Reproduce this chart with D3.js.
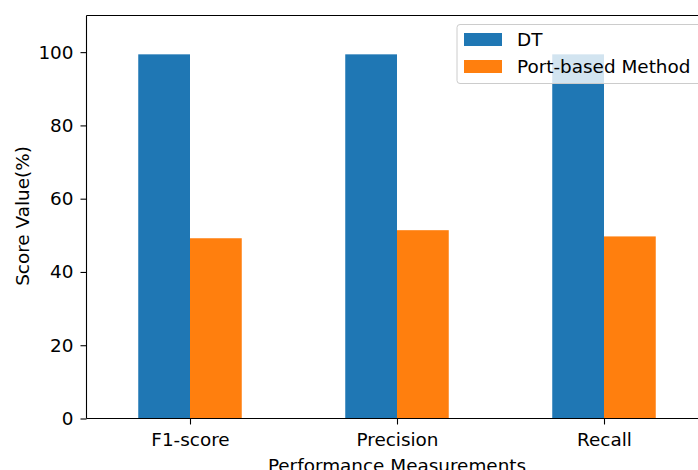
<!DOCTYPE html>
<html><head><meta charset="utf-8">
<script src="https://cdn.jsdelivr.net/npm/d3@7"></script>
<style>body{margin:0;background:#fff}svg{display:block;overflow:hidden}text{font-family:"DejaVu Sans",sans-serif}</style>
</head><body>
<svg id="c" width="698" height="470"></svg>
<script>
const categories = ["F1-score", "Precision", "Recall"];
const seriesNames = ["DT", "Port-based Method"];
const dtValues = [99.4, 99.4, 99.4];
const portValues = [49.2, 51.4, 49.7];
const yTicks = [0, 20, 40, 60, 80, 100];
const colors = ["#1f77b4", "#ff7f0e"];

(function () {
const svg = d3.select("#c");
const fs = 18.4;
const pLeft = 86.5, pRight = 707.5, pTop = 15.5, pBottom = 418.5;
const x = d3.scaleLinear().domain([-0.5, 2.5]).range([pLeft, pRight]);
const y = d3.scaleLinear().domain([0, 110]).range([pBottom, pTop]);
const bw = 0.25;
const series = [dtValues, portValues];

series.forEach((vals, si) => {
  svg.append("g").selectAll("rect").data(vals).join("rect")
    .attr("x", (d, i) => x(i - bw + si * bw))
    .attr("width", x(bw) - x(0))
    .attr("y", d => y(d))
    .attr("height", d => y(0) - y(d))
    .attr("fill", colors[si]);
});

const sp = svg.append("g").attr("stroke", "#000").attr("stroke-width", 1.1).attr("fill", "none");
sp.append("line").attr("x1", pLeft).attr("x2", pLeft).attr("y1", pTop).attr("y2", pBottom);
sp.append("line").attr("x1", pLeft).attr("x2", pRight).attr("y1", pBottom).attr("y2", pBottom);
sp.append("line").attr("x1", pLeft).attr("x2", pRight).attr("y1", pTop).attr("y2", pTop);
sp.append("line").attr("x1", pRight).attr("x2", pRight).attr("y1", pTop).attr("y2", pBottom);

const yAxis = d3.axisLeft(y).tickValues(yTicks).tickSize(6).tickPadding(7);
const gy = svg.append("g").attr("transform", `translate(${pLeft},0)`).call(yAxis);
gy.select(".domain").remove();
gy.selectAll("line").attr("stroke-width", 1.1);
gy.selectAll("text").attr("font-size", fs).attr("fill", "#000").attr("font-family", "DejaVu Sans");

const xAxis = d3.axisBottom(x).tickValues([0, 1, 2]).tickFormat(i => categories[i]).tickSize(6).tickPadding(8.3);
const gx = svg.append("g").attr("transform", `translate(0,${pBottom})`).call(xAxis);
gx.select(".domain").remove();
gx.selectAll("line").attr("stroke-width", 1.1);
gx.selectAll("text").attr("font-size", fs).attr("fill", "#000").attr("font-family", "DejaVu Sans");

svg.append("text").attr("x", (pLeft + pRight) / 2).attr("y", 472).attr("text-anchor", "middle")
  .attr("font-size", fs).text("Performance Measurements");
svg.append("text").attr("transform", "translate(28.5,216) rotate(-90)").attr("text-anchor", "middle")
  .attr("font-size", fs).text("Score Value(%)");

const lg = svg.append("g");
lg.append("rect").attr("x", 457).attr("y", 24.5).attr("width", 244).attr("height", 59).attr("rx", 3)
  .attr("fill", "#fff").attr("fill-opacity", 0.8).attr("stroke", "#cccccc").attr("stroke-width", 1);
seriesNames.forEach((n, i) => {
  lg.append("rect").attr("x", 464).attr("y", 33 + i * 27).attr("width", 38).attr("height", 13).attr("fill", colors[i]);
  lg.append("text").attr("x", 517).attr("y", 46 + i * 27).attr("font-size", fs).text(n);
});
})();
</script>
</body></html>
